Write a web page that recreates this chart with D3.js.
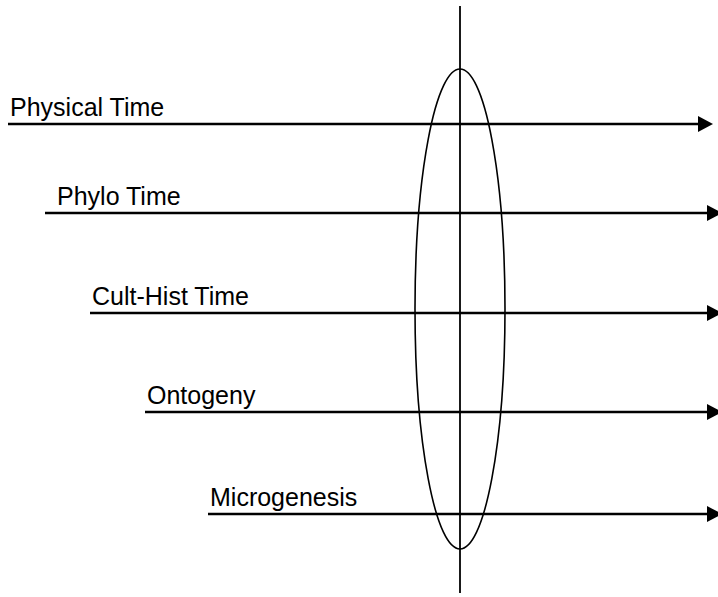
<html>
    <head>
        <script src="https://d3js.org/d3.v7.min.js"></script>
        <style>
            body { margin: 0; background: #fff; }
            text { font-family: "Liberation Sans", Arial, sans-serif; }
        </style>
    </head>
    <body>
        <svg width="718" height="597" id="chart"></svg>
    </body>
    <script>
        // timescales, top to bottom
        var labels = ["Physical Time", "Phylo Time", "Cult-Hist Time", "Ontogeny", "Microgenesis"]
        // where each timescale begins / ends on the common time axis (arbitrary units)
        var starts = [0, 37, 82, 137, 200]
        var ends = [705, 714, 714, 714, 714]

        var svg = d3.select("#chart")
        var width = +svg.attr("width")
        var height = +svg.attr("height")

        // x: shared time axis, y: one row per timescale
        var x = d3.scaleLinear().domain([0, 710]).range([8, 718])
        var y = d3.scaleOrdinal().domain(labels).range([124, 213, 313, 412, 514])
        var labelShift = [2, 12, 2, 2, 2]

        var present = 452   // the "present moment" on the time axis

        svg.append("defs").append("marker")
            .attr("id", "head")
            .attr("viewBox", "0 0 15 16")
            .attr("refX", 0)
            .attr("refY", 8)
            .attr("markerUnits", "userSpaceOnUse")
            .attr("markerWidth", 15)
            .attr("markerHeight", 16)
            .attr("orient", "auto")
            .append("path")
            .attr("d", "M0,0 L15,8 L0,16 Z")
            .attr("fill", "#000")

        // vertical line for the present
        svg.append("line")
            .attr("x1", x(present)).attr("x2", x(present))
            .attr("y1", 6).attr("y2", 593)
            .attr("stroke", "#000")
            .attr("stroke-width", 1.8)

        // ellipse across all timescales
        svg.append("ellipse")
            .attr("cx", x(present))
            .attr("cy", 309)
            .attr("rx", 45)
            .attr("ry", 240)
            .attr("fill", "none")
            .attr("stroke", "#000")
            .attr("stroke-width", 1.6)

        var rows = svg.selectAll(".row")
            .data(labels)
            .enter().append("g")
            .attr("class", "row")

        rows.append("line")
            .attr("x1", function(d, i) { return x(starts[i]) })
            .attr("x2", function(d, i) { return x(ends[i]) - 15 })
            .attr("y1", function(d) { return y(d) })
            .attr("y2", function(d) { return y(d) })
            .attr("stroke", "#000")
            .attr("stroke-width", 2.6)
            .attr("marker-end", "url(#head)")

        rows.append("text")
            .attr("x", function(d, i) { return x(starts[i]) + labelShift[i] })
            .attr("y", function(d) { return y(d) - 8 })
            .attr("font-size", 25)
            .attr("fill", "#000")
            .text(function(d) { return d })
    </script>
</html>
